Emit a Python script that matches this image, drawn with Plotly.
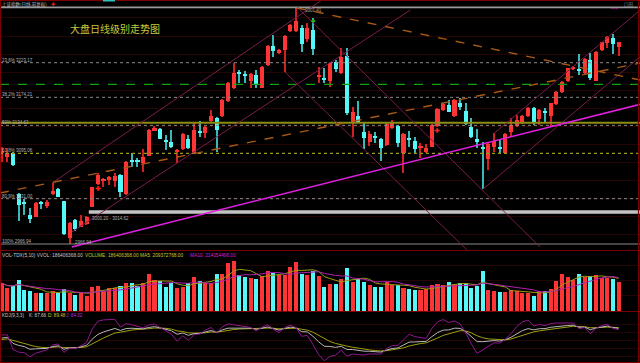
import plotly.graph_objects as go

W, H = 640, 363

# ---------------- data ----------------
candle_idx = list(range(-1, 109))
open_px = [3096.0, 3090.4, 3095.1, 3037.1, 3025.8, 3007.9, 3005.6, 3026.8, 3021.1, 3038.1,
           3044.2, 3027.7, 2974.9, 3000.9, 2991.4, 2994.7, 3019.7, 3051.3, 3056.9, 3057.4,
           3056.0, 3064.5, 3037.6, 3085.7, 3085.7, 3080.9, 3091.8, 3127.1, 3129.5, 3113.4,
           3111.1, 3097.0, 3101.2, 3115.8, 3096.0, 3125.7, 3124.3, 3141.2, 3145.5, 3148.3,
           3169.5, 3186.9, 3209.6, 3207.2, 3197.8, 3205.8, 3187.9, 3219.9, 3246.8, 3236.4,
           3241.1, 3268.4, 3268.4, 3271.7, 3256.2, 3269.4, 3202.5, 3202.0, 3197.3, 3224.6,
           3208.1, 3232.6, 3137.5, 3148.3, 3125.2, 3110.6, 3120.0, 3114.9, 3106.9, 3131.4,
           3134.2, 3095.1, 3117.2, 3113.0, 3103.1, 3096.5, 3104.5, 3133.7, 3156.8, 3162.9,
           3147.8, 3166.7, 3155.4, 3132.8, 3114.9, 3104.5, 3086.6, 3104.5, 3104.5, 3096.0,
           3124.8, 3134.2, 3137.5, 3148.3, 3158.7, 3143.1, 3154.0, 3147.8, 3164.3, 3182.2,
           3197.8, 3215.2, 3214.7, 3209.1, 3227.0, 3197.8, 3241.1, 3251.5, 3257.6, 3245.8]
high_px = [3104.0, 3102.1, 3097.4, 3039.5, 3030.1, 3017.3, 3026.8, 3027.7, 3029.1, 3053.6,
           3045.6, 3028.2, 2998.5, 3002.3, 3007.9, 3006.5, 3048.0, 3066.8, 3059.7, 3063.5,
           3066.8, 3065.9, 3083.8, 3095.1, 3088.0, 3101.2, 3129.5, 3134.2, 3130.4, 3121.0,
           3128.1, 3100.7, 3123.3, 3121.0, 3138.9, 3140.8, 3133.7, 3156.3, 3146.9, 3171.9,
           3196.4, 3222.3, 3212.9, 3211.4, 3208.1, 3212.9, 3218.5, 3248.2, 3262.3, 3242.1,
           3262.3, 3277.9, 3301.4, 3276.5, 3278.8, 3285.9, 3217.6, 3215.2, 3224.6, 3227.0,
           3243.5, 3243.5, 3161.0, 3169.0, 3138.4, 3127.1, 3124.8, 3116.3, 3138.4, 3142.2,
           3135.6, 3123.3, 3126.6, 3117.7, 3110.2, 3108.3, 3136.5, 3158.7, 3166.7, 3170.5,
           3171.9, 3172.8, 3165.7, 3144.5, 3129.0, 3111.6, 3109.2, 3123.3, 3113.9, 3123.3,
           3144.5, 3149.3, 3149.3, 3160.1, 3161.0, 3157.3, 3159.6, 3166.7, 3183.6, 3197.3,
           3216.1, 3218.5, 3235.0, 3229.3, 3236.4, 3239.7, 3252.9, 3260.9, 3263.3, 3252.9]
low_px = [3082.8, 3083.3, 3077.6, 2999.9, 3007.9, 2997.1, 3004.6, 3015.9, 3017.3, 3036.2,
          3032.9, 2979.7, 2966.9, 2985.3, 2990.5, 2993.3, 3018.8, 3050.3, 3048.0, 3050.3,
          3048.0, 3033.8, 3036.2, 3076.2, 3076.2, 3069.2, 3091.3, 3126.2, 3114.9, 3099.8,
          3102.1, 3080.9, 3099.8, 3100.7, 3094.1, 3117.7, 3116.3, 3139.4, 3097.4, 3146.9,
          3168.1, 3185.5, 3194.0, 3194.9, 3186.9, 3186.9, 3186.9, 3219.0, 3231.7, 3235.5,
          3210.5, 3267.0, 3267.0, 3238.8, 3252.9, 3234.1, 3194.0, 3194.0, 3189.3, 3210.5,
          3207.2, 3149.3, 3118.6, 3137.5, 3100.7, 3105.9, 3109.2, 3084.7, 3105.9, 3129.5,
          3104.5, 3067.8, 3104.5, 3093.7, 3088.0, 3095.1, 3103.6, 3132.8, 3155.4, 3153.0,
          3146.9, 3156.3, 3135.1, 3116.3, 3102.1, 3044.2, 3071.5, 3097.4, 3094.1, 3095.1,
          3118.6, 3132.8, 3136.5, 3146.9, 3135.1, 3135.1, 3138.9, 3132.8, 3162.9, 3180.8,
          3196.4, 3212.9, 3205.8, 3207.2, 3198.7, 3196.8, 3239.7, 3243.5, 3235.5, 3232.6]
close_px = [3097.9, 3096.0, 3078.6, 3022.1, 3023.9, 3002.7, 3025.4, 3023.0, 3025.8, 3041.8,
            3033.8, 2980.6, 2997.1, 2987.7, 2999.0, 3004.6, 3047.0, 3064.9, 3058.3, 3061.2,
            3063.0, 3040.9, 3082.8, 3083.8, 3083.8, 3090.4, 3128.1, 3131.4, 3115.8, 3111.6,
            3103.6, 3099.8, 3121.9, 3102.1, 3128.1, 3124.3, 3132.8, 3147.8, 3128.1, 3170.5,
            3194.9, 3209.1, 3207.7, 3205.3, 3207.2, 3191.7, 3217.6, 3247.2, 3240.2, 3241.1,
            3260.9, 3276.5, 3282.6, 3249.1, 3271.7, 3242.5, 3205.8, 3198.2, 3222.3, 3214.3,
            3231.7, 3151.6, 3154.0, 3139.8, 3117.2, 3122.4, 3117.7, 3102.1, 3136.5, 3138.9,
            3109.2, 3121.9, 3114.9, 3101.7, 3104.5, 3103.1, 3135.1, 3157.7, 3164.3, 3154.0,
            3170.5, 3161.0, 3136.1, 3118.6, 3112.5, 3102.6, 3107.8, 3113.0, 3101.7, 3122.4,
            3135.1, 3141.7, 3148.3, 3158.7, 3138.9, 3156.3, 3152.6, 3165.7, 3182.2, 3196.4,
            3215.2, 3217.6, 3211.9, 3227.9, 3201.1, 3238.8, 3252.0, 3260.0, 3250.1, 3252.0]
volume_m = [180, 146, 159, 199, 135, 131, 116, 116, 114, 131,
            118, 141, 114, 103, 114, 99, 156, 163, 131, 146,
            148, 163, 180, 180, 161, 180, 238, 199, 191, 156,
            180, 148, 152, 178, 221, 195, 178, 180, 238, 238,
            306, 324, 234, 221, 212, 208, 227, 259, 244, 234,
            234, 281, 317, 238, 234, 255, 227, 156, 171, 174,
            204, 274, 186, 204, 189, 165, 156, 156, 189, 167,
            167, 150, 141, 137, 137, 141, 167, 176, 167, 184,
            176, 178, 178, 150, 159, 257, 135, 131, 124, 124,
            135, 131, 114, 114, 96, 129, 129, 144, 193, 240,
            219, 199, 238, 221, 225, 231, 214, 210, 208, 186.406368]

fib_pct = ["23.6%", "38.2%", "50%", "61.8%", "80.9%", "100%"]
fib_val = [3223.17, 3174.21, 3134.63, 3095.06, 3031.00, 2966.94]
peak_val = 3301.41
green_level = 3192.6
yellow_level = 3138.4
gap_text = "3000.20 - 3014.62"
gap_band = [3009.6, 3014.62]
gap_start = 14.4

# trend lines: (candle index, price) anchors
up_upper = [(8.0, 3053.6), (55.6, 3311.8)]
up_lower = [(11.4, 2983.9), (71.2, 3297.6)]
down_upper = [(51.2, 3301.9), (94.1, 2962.7)]
down_lower = [(49.0, 3210.5), (81.2, 2958.5)]
right_lower = [(84.0, 3044.2), (111.8, 3231.6)]
right_upper = [(86.0, 3123.3), (111.8, 3297.6)]
orange_down = [(51.2, 3300.5), (111.8, 3198.7)]
orange_up = [(-1.3, 3039.0), (111.8, 3222.7)]
magenta_up = [(11.4, 2962.7), (111.8, 3164.4)]
up_marks = [(16, 3044.7), (76, 3125.7)]

vol_title = [("VOL-TDX(5,10) VVOL: 186406368.00", "#c8c8c8", 0),
             ("VOLUME: 186406368.00", "#c8c832", 83),
             ("MA5: 209372768.00", "#c8c832", 138),
             ("MA10: 214054496.00", "#d020d0", 188)]
kdj_title = [("KDJ(9,3,3)", "#c8c8c8", 0), ("K: 87.66", "#c8c8c8", 27),
             ("D: 89.48", "#c8c832", 46), ("J: 84.02", "#d020d0", 64)]

# ---------------- derived ----------------
RED, CYAN = "#ff3434", "#54f8f8"
RED_W, CYAN_W = "#d02020", "#38b8b8"
up = [c >= o for o, c in zip(open_px, close_px)]
body_col = [RED if u else CYAN for u in up]
wick_col = [RED_W if u else CYAN_W for u in up]
body_base = [min(o, c) for o, c in zip(open_px, close_px)]
body_h = [max(abs(c - o), 1.3) for o, c in zip(open_px, close_px)]
wick_h = [h - l for h, l in zip(high_px, low_px)]
vol = [v * 1e6 for v in volume_m]


def rolling_mean(a, n):
    out = []
    for t in range(len(a)):
        w = a[max(0, t - n + 1):t + 1]
        out.append(sum(w) / len(w))
    return out


ma5 = rolling_mean(vol, 5)
ma10 = rolling_mean(vol, 10)

K, D, J = [], [], []
kp, dp = 50.0, 50.0
for t in range(len(close_px)):
    lo = min(low_px[max(0, t - 8):t + 1])
    hi = max(high_px[max(0, t - 8):t + 1])
    rsv = (close_px[t] - lo) / (hi - lo) * 100 if hi > lo else 50
    k = (2 * kp + rsv) / 3
    d = (2 * dp + k) / 3
    K.append(k); D.append(d); J.append(3 * k - 2 * d)
    kp, dp = k, d

# ---------------- geometry ----------------
X0, X1 = -1.29, 111.78
def px(x): return x / W
def py(y): return 1 - y / H

fig = go.Figure()
fig.add_trace(go.Bar(x=candle_idx, y=wick_h, base=low_px, width=0.2,
                     marker=dict(color=wick_col, line_width=0), xaxis="x", yaxis="y"))
fig.add_trace(go.Bar(x=candle_idx, y=body_h, base=body_base, width=0.72,
                     marker=dict(color=body_col, line_width=0), xaxis="x", yaxis="y"))
fig.add_trace(go.Bar(x=candle_idx, y=vol, width=0.72,
                     marker=dict(color=body_col, line_width=0), xaxis="x", yaxis="y2"))
fig.add_trace(go.Scatter(x=candle_idx, y=ma5, mode="lines", line=dict(color="#9c9c10", width=1),
                         xaxis="x", yaxis="y2"))
fig.add_trace(go.Scatter(x=candle_idx, y=ma10, mode="lines", line=dict(color="#b020b0", width=1),
                         xaxis="x", yaxis="y2"))
fig.add_trace(go.Scatter(x=candle_idx, y=D, mode="lines", line=dict(color="#a0a010", width=1),
                         xaxis="x", yaxis="y3"))
fig.add_trace(go.Scatter(x=candle_idx, y=K, mode="lines", line=dict(color="#b8b8b8", width=1),
                         xaxis="x", yaxis="y3"))
fig.add_trace(go.Scatter(x=candle_idx, y=J, mode="lines", line=dict(color="#901890", width=1),
                         xaxis="x", yaxis="y3"))
fig.add_trace(go.Scatter(x=[m[0] for m in up_marks], y=[m[1] for m in up_marks], mode="text",
                         text=["✚"] * len(up_marks), textfont=dict(color="#ff2020", size=7),
                         xaxis="x", yaxis="y"))

shapes = []
def hline(val, color, width, dash="solid"):
    shapes.append(dict(type="line", xref="paper", yref="y", x0=0, x1=1, y0=val, y1=val,
                       line=dict(color=color, width=width, dash=dash)))

def seg(pts, color, width, dash="solid"):
    (xa, ya), (xb, yb) = pts
    shapes.append(dict(type="line", xref="x", yref="y", x0=xa, y0=ya, x1=xb, y1=yb,
                       line=dict(color=color, width=width, dash=dash)))

hline(peak_val, "#9a9a9a", 1.6)
for pct, v in zip(fib_pct, fib_val):
    if pct == "100%":
        hline(v, "#8a8a8a", 1)
    elif pct == "61.8%":
        hline(v, "#9a9a20", 1.2, "dot")
    else:
        hline(v, "#8a8a8a", 1, "dot")
hline(yellow_level, "#8c8c10", 2)
hline(green_level, "#10a010", 1.4, "dash")
shapes.append(dict(type="rect", xref="x", yref="y", x0=gap_start, x1=X1,
                   y0=gap_band[0], y1=gap_band[1], fillcolor="#c4c4c4", line_width=0))

MAROON = "#7a1c4c"
for ln in (up_upper, up_lower, down_upper, down_lower, right_lower, right_upper):
    seg(ln, MAROON, 1)
seg(orange_down, "#a85a14", 1.4, "dash")
seg(orange_up, "#a85a14", 1.4, "dash")
seg(magenta_up, "#e020e0", 1.6)

# frame / separators
BR = "#7a0000"
for yy in (0.5, 250.5, 311.5, 362.5):
    shapes.append(dict(type="line", xref="paper", yref="paper", x0=0, x1=1, y0=py(yy), y1=py(yy),
                       line=dict(color=BR, width=1.2)))
for xx in (0.5, 638.5):
    shapes.append(dict(type="line", xref="paper", yref="paper", x0=px(xx), x1=px(xx), y0=0, y1=1,
                       line=dict(color=BR, width=1.2)))
shapes.append(dict(type="rect", xref="paper", yref="paper", x0=px(103), x1=px(115),
                   y0=py(1.5), y1=py(0), fillcolor="#30c0c0", line_width=0))

ann = []
def txt(x, y, s, color, size, anchor="left", fam="Liberation Sans", xref="paper", yref="paper",
        yanchor="middle"):
    ann.append(dict(x=x, y=y, xref=xref, yref=yref, text=s, showarrow=False,
                    xanchor=anchor, yanchor=yanchor, borderpad=0,
                    font=dict(color=color, size=size, family=fam)))

txt(px(1), py(4), "上证指数(日线,前复权)", "#c0c0c0", 4.5, fam="Noto Sans CJK SC")
txt(px(53), py(4), "✚", "#ff2020", 5, anchor="center")
txt(px(115), py(28), "大盘日线级别走势图", "#c8c83c", 10, anchor="center", fam="Noto Sans CJK SC")
for pct, v in zip(fib_pct, fib_val):
    ann.append(dict(x=px(1), y=v, xref="paper", yref="y", text=f"{pct} {v:.2f}", showarrow=False,
                    xanchor="left", yanchor="bottom", yshift=-1, borderpad=0,
                    font=dict(color="#b0b0b0", size=4.5, family="Liberation Sans")))
txt(px(91), py(218), gap_text, "#b0b0b0", 4.5)
txt(px(304), py(11), f"{peak_val:.2f}", "#b0a090", 4.5)
txt(px(74), py(242.5), f"{fib_val[-1]:.2f}", "#b0b0b0", 4.5)
txt(px(313.5), py(20), "♣", "#20b020", 7, anchor="center")
txt(px(614), py(8), "▪ ▪ ▪", "#d020d0", 4, anchor="center")
txt(px(629), py(4), "口田", "#909090", 4.5, anchor="center", fam="Noto Sans CJK SC")
for s, c, x in vol_title:
    txt(px(x + 1), py(255.5), s, c, 4.8)
for s, c, x in kdj_title:
    txt(px(x + 1), py(315.5), s, c, 4.6)

jmin, jmax = min(J), max(J)

fig.update_layout(
    width=W, height=H, margin=dict(l=0, r=0, t=0, b=0),
    paper_bgcolor="#000000", plot_bgcolor="#000000",
    showlegend=False, barmode="overlay", bargap=0,
    shapes=shapes, annotations=ann,
    xaxis=dict(range=[X0, X1], domain=[0, 1], visible=False, anchor="y"),
    yaxis=dict(range=[2958.47, 3311.78], domain=[py(250), 1], showticklabels=False,
               showgrid=True, gridcolor="#240404", tick0=3184.4, dtick=25.5, zeroline=False),
    yaxis2=dict(range=[0, 385.8e6], domain=[py(311), py(251)], showticklabels=False,
                showgrid=True, gridcolor="#240404", dtick=98.5e6, zeroline=False, anchor="x"),
    yaxis3=dict(range=[jmin - 1, jmax + 1], domain=[py(361), py(319)], showticklabels=False,
                showgrid=True, gridcolor="#240404", dtick=25, zeroline=False, anchor="x"),
)

fig.write_html("out.html", config={"displayModeBar": False},
               post_script="document.body.style.margin='0px';document.body.style.background='#000';")
